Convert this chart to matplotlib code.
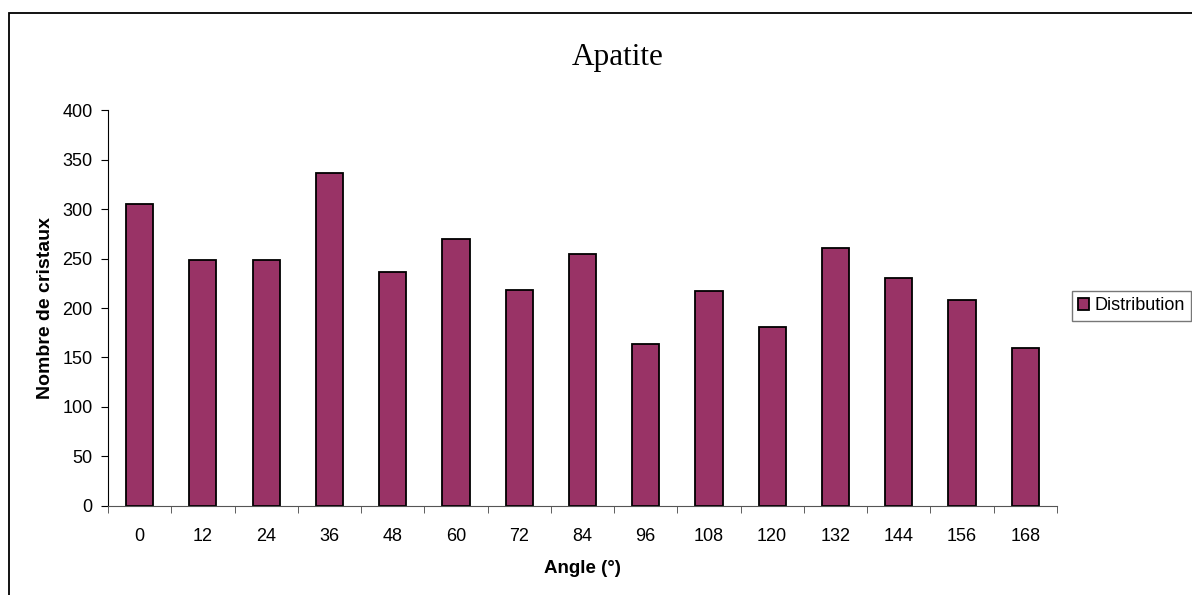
import matplotlib
matplotlib.use("Agg")
import matplotlib.pyplot as plt
from matplotlib.patches import Rectangle
import numpy as np

angles = ["0", "12", "24", "36", "48", "60", "72", "84", "96", "108",
          "120", "132", "144", "156", "168"]
counts = [305, 248, 248, 336, 236, 270, 218, 255, 164, 217,
          181, 261, 230, 208, 160]
yticks = [0, 50, 100, 150, 200, 250, 300, 350, 400]

plt.rcParams['font.family'] = ['Liberation Sans', 'DejaVu Sans']

fig = plt.figure(figsize=(11.92, 5.95), dpi=100)
ax = fig.add_axes([0.0906, 0.1496, 0.796, 0.6655])

x = np.arange(len(angles))
bars = ax.bar(x, counts, width=0.43, color="#993366", edgecolor="black",
              linewidth=1.3, label="Distribution")

ax.set_xlim(-0.5, len(angles) - 0.5)
ax.set_ylim(0, 400)
ax.set_yticks(yticks)
ax.set_yticklabels([str(v) for v in yticks], fontsize=13)
ax.set_xticks(x)
ax.set_xticklabels(angles, fontsize=13)
ax.tick_params(axis='x', length=0, pad=16)
ax.set_xticks(np.arange(-0.5, len(angles) + 0.5, 1), minor=True)
ax.tick_params(axis='x', which='minor', length=5, color="#444444", direction='out')
ax.tick_params(axis='y', length=5, direction='out', pad=6)

for s in ["top", "right"]:
    ax.spines[s].set_visible(False)
ax.spines["left"].set_color("black")
ax.spines["bottom"].set_color("#555555")

ax.set_xlabel("Angle (°)", fontsize=13.5, fontweight="bold", labelpad=11)
ax.set_ylabel("Nombre de cristaux", fontsize=14, fontweight="bold", labelpad=6)

fig.text(0.518, 0.904, "Apatite", fontsize=22.5, ha="center", va="center",
         family="Liberation Serif")

fig.legend(handles=[bars], labels=["Distribution"], loc="upper left",
           bbox_to_anchor=(0.899, 0.511), frameon=True, fancybox=False,
           edgecolor="#555555", fontsize=13, handlelength=0.6, handleheight=0.6,
           handletextpad=0.3, borderpad=0.35, borderaxespad=0)

frame = Rectangle((9 / 1192, -0.1), 1.2, 0.978 + 0.1, transform=fig.transFigure,
                  fill=False, edgecolor="black", linewidth=1.3, clip_on=False)
fig.patches.append(frame)

fig.savefig("out.png", dpi=100)
